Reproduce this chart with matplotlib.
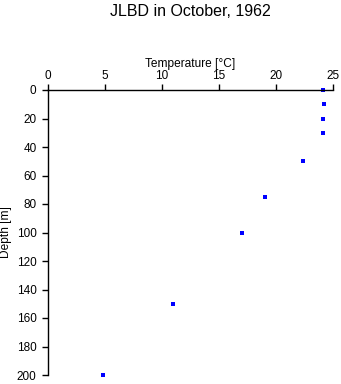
import matplotlib
matplotlib.use("Agg")
import matplotlib.pyplot as plt

# JLBD profile, October 1962
depth = [0, 10, 20, 30, 50, 75, 100, 150, 200]
temperature = [24.15, 24.2, 24.1, 24.1, 22.4, 19.0, 17.05, 10.95, 4.85]

x_ticks = [0, 5, 10, 15, 20, 25]
y_ticks = [0, 20, 40, 60, 80, 100, 120, 140, 160, 180, 200]

plt.rcParams['font.family'] = ['Liberation Sans', 'DejaVu Sans']

fig = plt.figure(figsize=(3.41, 3.84), dpi=100)
ax = fig.add_axes([48 / 341, 1 - 375 / 384, 285 / 341, 285 / 384])

ax.plot(temperature, depth, 's', color='blue', markersize=2.4, markeredgewidth=0, clip_on=False)

ax.set_xlim(0, 25)
ax.set_ylim(200, 0)
ax.set_xticks(x_ticks)
ax.set_yticks(y_ticks)
ax.xaxis.tick_top()
ax.xaxis.set_label_position('top')
ax.tick_params(axis='both', direction='out', length=4.3, width=1, labelsize=8.5)
ax.tick_params(axis='x', pad=1.5)
ax.tick_params(axis='y', pad=4)
ax.spines['right'].set_visible(False)
ax.spines['bottom'].set_visible(False)
ax.spines['top'].set_linewidth(1)
ax.spines['left'].set_linewidth(1)

ax.set_xlabel('Temperature [°C]', fontsize=8.6, labelpad=2)
ax.set_ylabel('Depth [m]', fontsize=8.6, labelpad=3)

fig.text(190.5 / 341, 1 - 12 / 384, 'JLBD in October, 1962', ha='center', va='center', fontsize=11.5)

fig.savefig('out.png', dpi=100)
